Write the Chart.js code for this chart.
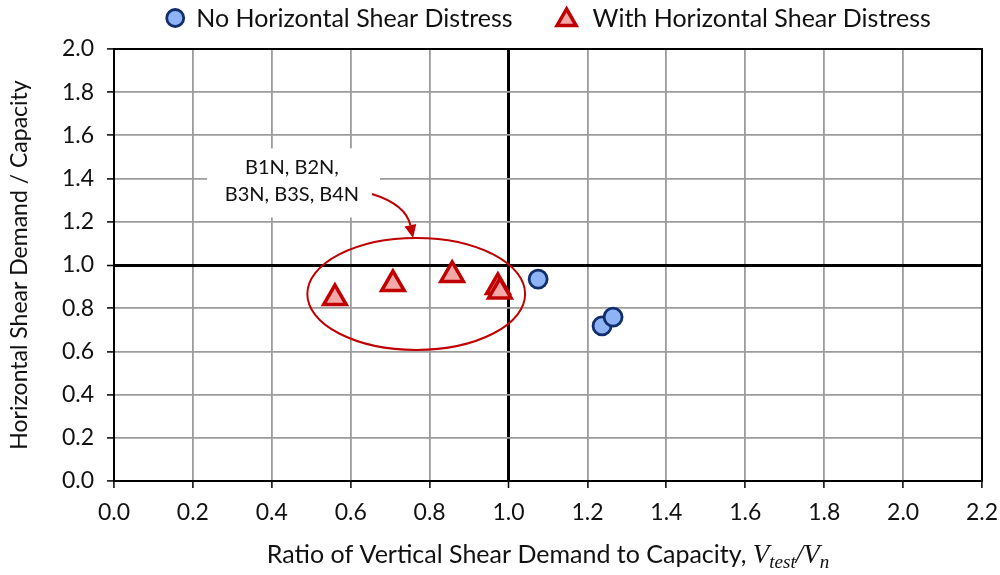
<!DOCTYPE html>
<html lang="en">
<head>
<meta charset="UTF-8">
<title>Horizontal vs Vertical Shear Demand</title>
<script src="https://cdn.jsdelivr.net/npm/chart.js"></script>
<style>
  html, body { margin: 0; padding: 0; background: #fff; }
</style>
</head>
<body>
<canvas id="chart" width="1000" height="575"></canvas>
<script>
// values
const seriesNames = ['No Horizontal Shear Distress', 'With Horizontal Shear Distress'];
const noDistressX = [1.075, 1.237, 1.265];
const noDistressY = [0.935, 0.718, 0.759];
const withDistressX = [0.560, 0.707, 0.857, 0.973, 0.978];
const withDistressY = [0.847, 0.912, 0.954, 0.898, 0.877];
const xTickValues = [0.0, 0.2, 0.4, 0.6, 0.8, 1.0, 1.2, 1.4, 1.6, 1.8, 2.0, 2.2];
const yTickValues = [0.0, 0.2, 0.4, 0.6, 0.8, 1.0, 1.2, 1.4, 1.6, 1.8, 2.0];
const calloutLines = ['B1N, B2N,', 'B3N, B3S, B4N'];

const FONT = 'Lato, "DejaVu Sans", sans-serif';
const RED = '#c00000';

const isOne = v => Math.abs(v - 1) < 1e-6;

// frame, callout box, arrow and ellipse (drawn under the markers)
const decorations = {
  id: 'decorations',
  beforeDatasetsDraw(chart) {
    const { ctx, chartArea: a, scales: { x, y } } = chart;
    ctx.save();

    // plot frame
    ctx.strokeStyle = '#000';
    ctx.lineWidth = 2;
    ctx.strokeRect(a.left, a.top, a.right - a.left, a.bottom - a.top);

    // callout box hiding the grid
    const bx0 = x.getPixelForValue(0.236), bx1 = x.getPixelForValue(0.674);
    const by0 = y.getPixelForValue(1.54), by1 = y.getPixelForValue(1.22);
    ctx.fillStyle = '#fff';
    ctx.fillRect(bx0, by0, bx1 - bx0, by1 - by0);
    ctx.fillStyle = '#111';
    ctx.font = '20px ' + FONT;
    ctx.textAlign = 'center';
    ctx.textBaseline = 'middle';
    ctx.fillText(calloutLines[0], x.getPixelForValue(0.451), y.getPixelForValue(1.449));
    ctx.fillText(calloutLines[1], x.getPixelForValue(0.451), y.getPixelForValue(1.324));

    // curved arrow
    const sx = x.getPixelForValue(0.654), sy = y.getPixelForValue(1.329);
    const cx = x.getPixelForValue(0.740), cy = y.getPixelForValue(1.280);
    const ex = x.getPixelForValue(0.758), ey = y.getPixelForValue(1.125);
    ctx.strokeStyle = RED;
    ctx.fillStyle = RED;
    ctx.lineWidth = 2;
    const ang = Math.atan2(ey - cy, ex - cx);
    const headLen = 13, headW = 6;
    const bxh = ex - Math.cos(ang) * headLen, byh = ey - Math.sin(ang) * headLen;
    ctx.beginPath();
    ctx.moveTo(sx, sy);
    ctx.quadraticCurveTo(cx, cy, bxh, byh);
    ctx.stroke();
    ctx.beginPath();
    ctx.moveTo(ex, ey);
    ctx.lineTo(bxh + Math.sin(ang) * headW, byh - Math.cos(ang) * headW);
    ctx.lineTo(bxh - Math.sin(ang) * headW, byh + Math.cos(ang) * headW);
    ctx.closePath();
    ctx.fill();

    // ellipse around the distressed beams
    const ecx = x.getPixelForValue(0.766), ecy = y.getPixelForValue(0.866);
    const erx = x.getPixelForValue(0.766 + 0.276) - ecx;
    const ery = ecy - y.getPixelForValue(0.866 + 0.259);
    ctx.lineWidth = 2;
    ctx.beginPath();
    ctx.ellipse(ecx, ecy, erx, ery, 0, 0, Math.PI * 2);
    ctx.stroke();

    ctx.restore();
  }
};

// legend row and x axis title with the math part
const labels = {
  id: 'labels',
  afterDraw(chart) {
    const { ctx, chartArea: a } = chart;
    const mid = (a.left + a.right) / 2;
    ctx.save();

    // legend
    ctx.font = '25px ' + FONT;
    ctx.textBaseline = 'middle';
    ctx.textAlign = 'left';
    const gaps = [11, 16], spacing = 44, mark = 20;
    const widths = chart.data.datasets.map(ds => ctx.measureText(ds.label).width);
    const total = 2 * mark + gaps[0] + gaps[1] + widths[0] + widths[1] + spacing;
    let lx = mid - total / 2;
    const ly = 18;
    chart.data.datasets.forEach((ds, i) => {
      ctx.fillStyle = ds.backgroundColor;
      ctx.strokeStyle = ds.borderColor;
      ctx.lineWidth = ds.borderWidth;
      Chart.helpers.drawPoint(ctx, {
        pointStyle: ds.pointStyle, radius: i === 0 ? 8.5 : 11, rotation: 0, borderWidth: ds.borderWidth
      }, lx + mark / 2, ly + (i === 0 ? 0 : 2));
      ctx.fillStyle = '#111';
      ctx.fillText(ds.label, lx + mark + gaps[i], ly + 1);
      lx += mark + gaps[i] + widths[i] + spacing;
    });

    // x axis title
    const plain = 'Ratio of Vertical Shear Demand to Capacity, ';
    const big = 'italic 27px "Liberation Serif", "DejaVu Serif", serif';
    const small = 'italic 19px "Liberation Serif", "DejaVu Serif", serif';
    const parts = [
      { t: plain, f: '25px ' + FONT, dy: 0 },
      { t: 'V', f: big, dy: 0 },
      { t: 'test', f: small, dy: 5 },
      { t: '/', f: big, dy: 0 },
      { t: 'V', f: big, dy: 0 },
      { t: 'n', f: small, dy: 5 }
    ];
    let tw = 0;
    parts.forEach(p => { ctx.font = p.f; p.w = ctx.measureText(p.t).width; tw += p.w; });
    let tx = mid - tw / 2;
    const base = 563;
    ctx.textBaseline = 'alphabetic';
    ctx.fillStyle = '#111';
    parts.forEach(p => {
      ctx.font = p.f;
      ctx.fillText(p.t, tx, base + p.dy);
      tx += p.w;
    });

    ctx.restore();
  }
};

const gridColor = c => (c.tick && isOne(c.tick.value)) ? '#000' : '#9c9c9c';
const gridWidth = c => (c.tick && isOne(c.tick.value)) ? 3 : 1.8;

new Chart(document.getElementById('chart'), {
  type: 'scatter',
  data: {
    datasets: [
      {
        label: seriesNames[0],
        data: noDistressX.map((v, i) => ({ x: v, y: noDistressY[i] })),
        pointStyle: 'circle',
        pointRadius: 9,
        backgroundColor: '#8eb4f6',
        borderColor: '#112f6c',
        borderWidth: 2.8
      },
      {
        label: seriesNames[1],
        data: withDistressX.map((v, i) => ({ x: v, y: withDistressY[i] })),
        pointStyle: 'triangle',
        pointRadius: 13,
        backgroundColor: '#f4a8a8',
        borderColor: RED,
        borderWidth: 3.5
      }
    ]
  },
  options: {
    responsive: false,
    devicePixelRatio: 1,
    animation: false,
    layout: { padding: { top: 49, right: 18, left: 0, bottom: 0 } },
    plugins: {
      legend: { display: false },
      tooltip: { enabled: false }
    },
    scales: {
      x: {
        type: 'linear',
        min: 0,
        max: 2.2,
        afterBuildTicks: s => { s.ticks = xTickValues.map(v => ({ value: v })); },
        afterFit: s => { s.height = 94; s.paddingLeft = 0; s.paddingRight = 0; },
        ticks: {
          callback: v => v.toFixed(1),
          color: '#111',
          font: { family: FONT, size: 23 },
          padding: 11,
          maxRotation: 0
        },
        grid: { color: gridColor, lineWidth: gridWidth, tickColor: '#000', tickWidth: 1.5, tickLength: 7 },
        border: { display: false }
      },
      y: {
        type: 'linear',
        min: 0,
        max: 2.0,
        afterBuildTicks: s => { s.ticks = yTickValues.map(v => ({ value: v })); },
        afterFit: s => { s.width = 114; s.paddingTop = 0; s.paddingBottom = 0; },
        ticks: {
          callback: v => v.toFixed(1),
          color: '#111',
          font: { family: FONT, size: 23 },
          padding: 13
        },
        title: {
          display: true,
          text: 'Horizontal Shear Demand / Capacity',
          color: '#111',
          font: { family: FONT, size: 23 },
          padding: { top: 6, bottom: 0 }
        },
        grid: { color: gridColor, lineWidth: gridWidth, tickColor: '#000', tickWidth: 1.5, tickLength: 7 },
        border: { display: false }
      }
    }
  },
  plugins: [decorations, labels]
});
</script>
</body>
</html>
